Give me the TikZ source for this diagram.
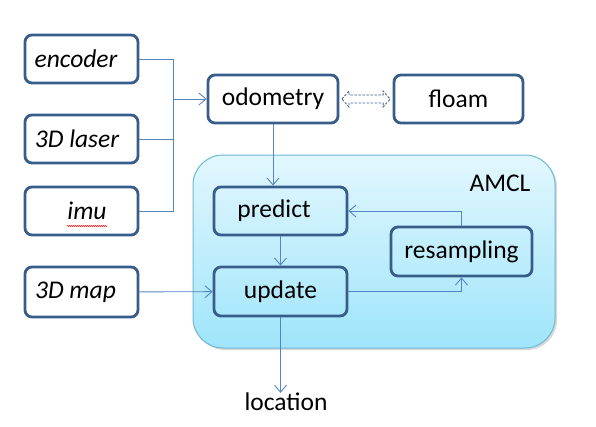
\documentclass[tikz,border=0pt]{standalone}
\usepackage{fontspec}
\setmainfont{Carlito}
\usetikzlibrary{arrows.meta,shadows,decorations.pathmorphing}
\definecolor{boxline}{HTML}{385D8A}
\definecolor{linkline}{HTML}{5585C0}
\definecolor{amcltop}{HTML}{E2F7FE}
\definecolor{amclbot}{HTML}{9FE5FA}
\definecolor{amclline}{HTML}{6CB8D6}

\begin{document}
\begin{tikzpicture}[x=1pt,y=-1pt,>={Straight Barb[length=7pt,width=12pt]}]
  \tikzstyle{block}=[draw=boxline,line width=2.8pt,rounded corners=7pt,minimum width=113pt,minimum height=48pt,inner sep=0pt,font=\fontsize{25.5}{30}\selectfont]
  \tikzstyle{input}=[block,fill=white,font=\fontsize{25.5}{30}\selectfont\itshape]
  \tikzstyle{link}=[draw=linkline,line width=0.9pt]
  \tikzstyle{plain}=[inner sep=0pt,font=\fontsize{25.5}{30}\selectfont]
  \useasboundingbox (0,0) rectangle (596,426);

  % AMCL container
  \node[draw=amclline,line width=1pt,rounded corners=30pt,top color=amcltop,bottom color=amclbot,
        drop shadow={shadow xshift=2pt,shadow yshift=-2pt,opacity=0.3},
        minimum width=362pt,minimum height=193pt] (AMCL) at (374,251.5) {};
  \node[plain] (AMCL_label) at (500,183) {AMCL};

  % inputs
  \node[input] (encoder) at (81.5,59)  {\hspace*{-11pt}encoder};
  \node[input] (laser)   at (81.5,139) {\hspace*{-9pt}3D laser};
  \node[input] (imu)     at (81.5,211) {\hspace*{11pt}imu};
  \node[input,minimum height=50pt] (map) at (81.5,292) {\hspace*{-12pt}3D map};
  \draw[red,line width=0.5pt,decorate,decoration={zigzag,segment length=2pt,amplitude=0.6pt}]
    ([shift={(-14.5,15)}]imu.center) -- ([shift={(25.5,15)}]imu.center);

  \node[block,fill=white,minimum width=130pt] (odometry) at (273,99)   {odometry};
  \node[block,fill=white,minimum width=129pt] (floam)    at (458.5,99) {\raisebox{-5pt}{floam}};

  \node[block,minimum width=133pt] (predict)    at (280.5,211)   {\hspace*{-13pt}predict};
  \node[block,minimum width=133pt,minimum height=49pt] (update) at (280.5,291.5) {update};
  \node[block,minimum width=141pt,minimum height=49pt] (resampling) at (461.5,251.5) {resampling};

  \node[plain] (location) at (286,402) {location};

  % connectors
  \coordinate (merge) at (173,99);
  \draw[link] (encoder) -| (merge);
  \draw[link] (laser) -| (merge);
  \draw[link] (imu) -| (merge);
  \draw[link,->] (merge) -- (odometry);

  \draw[link,->] (odometry.south) -- (odometry.south |- predict.north);
  \draw[link,->] (predict) -- (update);
  \draw[link,->] (update) -| (resampling);
  \draw[link,->] (resampling) |- (predict);
  \draw[link,->] (map) -- (update);
  \draw[link,->] (update.south) -- (update.south |- location.north);

  % odometry <-> floam
  \coordinate (dl) at ([xshift=2.5pt]odometry.east);
  \coordinate (dr) at ([xshift=-2.5pt]floam.west);
  \draw[boxline,line width=0.8pt,dash pattern=on 2.5pt off 1.5pt,line join=miter]
    (dl) -- ([shift={(7,-8)}]dl) -- ([shift={(7,-4)}]dl) -- ([shift={(-7,-4)}]dr)
    -- ([shift={(-7,-8)}]dr) -- (dr) -- ([shift={(-7,8)}]dr) -- ([shift={(-7,4)}]dr)
    -- ([shift={(7,4)}]dl) -- ([shift={(7,8)}]dl) -- cycle;
\end{tikzpicture}
\end{document}
